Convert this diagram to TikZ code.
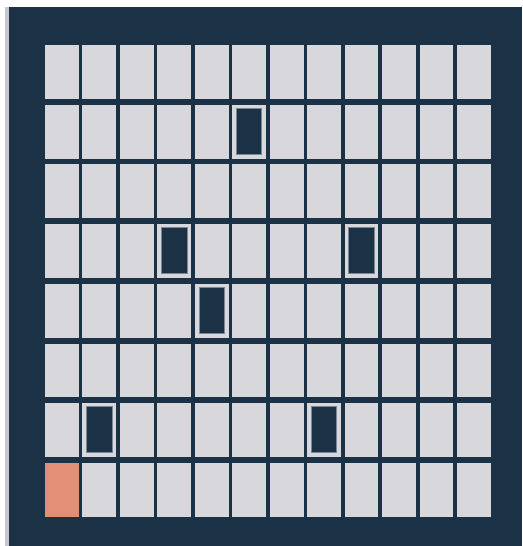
\documentclass[tikz,border=0pt]{standalone}
\definecolor{navy}{RGB}{27,50,70}
\definecolor{cellgray}{RGB}{216,216,220}
\definecolor{startorange}{RGB}{227,143,120}
\definecolor{edgegray}{RGB}{200,200,204}
\definecolor{obsline}{RGB}{120,138,154}
\tikzset{
  cellbox/.style={fill=cellgray, draw=none, inner sep=0pt, outer sep=0pt, anchor=north west, minimum width=33.8pt, minimum height=53.8pt},
  startbox/.style={cellbox, fill=startorange},
  obsbox/.style={fill=navy, draw=obsline, line width=0.8pt, inner sep=0pt, outer sep=0pt, minimum width=25.4pt, minimum height=46pt}
}
\begin{document}
\begin{tikzpicture}[x=1pt,y=-1pt]
\useasboundingbox (0,0) rectangle (522,546);
\fill[white] (0,0) rectangle (522,546);
\fill[edgegray] (5,7) rectangle (9,546);
\fill[navy] (9,7) rectangle (522,546);
\foreach \r in {0,...,7}{
  \foreach \c in {0,...,11}{
    \node[cellbox] (cell-\r-\c) at ({45+\c*37.45},{45+\r*59.7}) {};
  }
}
\node[startbox] (start) at (45,{45+7*59.7}) {};
\foreach \r/\c in {1/5,3/3,3/8,4/4,6/1,6/7}{
  \node[obsbox] (obs-\r-\c) at ([yshift=0.3pt]cell-\r-\c.center) {};
}
\end{tikzpicture}
\end{document}
